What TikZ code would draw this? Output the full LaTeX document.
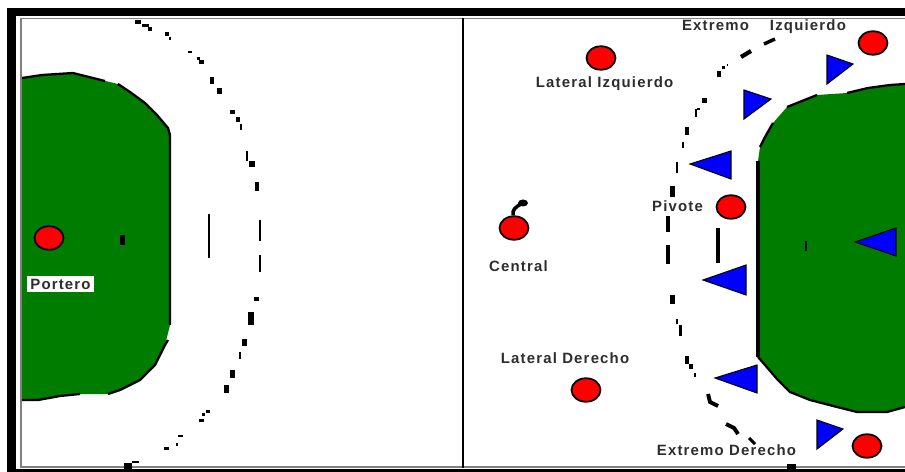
\documentclass[tikz,border=0pt]{standalone}
\usepackage{fontspec}
\setmainfont[LetterSpace=8]{Liberation Sans}
\usetikzlibrary{shapes.geometric}
\definecolor{areagreen}{RGB}{0,124,0}
\definecolor{labelgray}{RGB}{45,45,45}
\tikzset{
  player/.style={ellipse, draw=black, line width=1pt, fill=red, minimum width=0.58cm, minimum height=0.47cm, inner sep=0pt},
  defender/.style={draw=black, line width=0.6pt, fill=blue},
  area/.style={fill=areagreen},
  areaedge/.style={black, line width=1.3pt},
  courtlabel/.style={text=labelgray, font=\bfseries\fontsize{8.5}{10}\selectfont, inner sep=0pt}
}
\begin{document}
\begin{tikzpicture}[x=0.02cm, y=-0.02cm]
        \useasboundingbox (0,0) rectangle (905,472);
        \clip (0,0) rectangle (905,472);

        % Goal areas
        \fill[area] (22,78) -- (42,75) -- (73,73) -- (93,78) -- (118,84) -- (130,92) -- (145,103) -- (157,115) -- (168,128) -- (170,135) -- (170,325) -- (165,345) -- (155,365) -- (140,380) -- (120,390) -- (108,394) -- (80,394) -- (60,396) -- (38,400) -- (22,400) -- cycle;
        \fill[area] (905,84) -- (890,85) -- (868,88) -- (847,93) -- (817,95) -- (797,103) -- (787,107) -- (773,123) -- (765,137) -- (760,147) -- (758,161) -- (758,357) -- (765,365) -- (777,379) -- (790,392) -- (810,400) -- (837,407) -- (857,412) -- (887,412) -- (905,407) -- cycle;
        \draw[areaedge] (22,78) -- (42,75) -- (73,73) -- (93,78) -- (105,81);
        \draw[areaedge] (118,84) -- (130,92) -- (145,103) -- (157,115) -- (168,128) -- (170,135) -- (170,325);
        \draw[areaedge] (168,340) -- (165,345) -- (155,365) -- (140,380) -- (120,390) -- (108,394);
        \draw[areaedge] (80,394) -- (60,396) -- (38,400) -- (22,400);
        \draw[areaedge] (905,84) -- (890,85) -- (868,88) -- (847,93);
        \draw[areaedge] (817,95) -- (797,103) -- (787,107);
        \draw[areaedge] (773,123) -- (765,137) -- (760,147);
        \draw[black, line width=2.2pt] (758,161) -- (758,357);
        \draw[areaedge] (758,357) -- (765,365) -- (777,379) -- (790,392) -- (810,400) -- (837,407) -- (857,412) -- (887,412) -- (905,407);

        % Court frame
        \fill[black] (7,8) rectangle (905,16);
        \fill[black] (7,8) rectangle (15.5,472);
        \fill[black] (7,469) rectangle (905,472);
        \draw[gray, line width=0.7pt] (21,18.5) -- (905,18.5);
        \draw[gray, line width=0.7pt] (21,18.5) -- (21,467) -- (905,467);
        \draw[black, line width=1.6pt] (463,18) -- (463,468);

        % Free throw dashes
        \foreach \x/\y/\w/\h in {135/20/6/4, 142/24/7/3, 148/27/4/4, 165/32/4/4, 169/37/2/3, 188/51/4/2, 197/57/3/3, 199/60/5/4, 210/77/4/7, 217/88/5/6, 230/110/5/4, 236/117/4/5, 240/124/2/6, 246/151/2/10, 249/161/6/6, 255/182/4/9, 259/220/2/21, 259/255/2/17, 254/297/5/4, 248/312/6/13, 242/339/5/7, 239/352/2/7, 230/370/5/8, 224/385/5/8, 206/410/4/3, 202/413/3/3, 199/419/5/3, 178/435/5/2, 176/443/2/3, 164/447/5/3, 124/463/8/6, 132/461/7/2, 702/98/5/5, 695/109/2/8, 697/108/3/2, 685/127/4/8, 682/142/2/6, 676/162/2/11, 670/186/5/11, 666/216/4/16, 666/245/4/19, 670/295/5/9, 676/319/2/5, 679/325/3/11, 685/356/4/8, 689/364/4/5, 694/373/2/4, 787/464/9/5, 717/71/4/6, 722/66/3/3, 727/64/1/2} {
          \fill[black] (\x,\y) rectangle ++(\w,\h);
        }
        \draw[black, line width=2pt] (764,44) -- (775,39);
        \draw[black, line width=2.4pt] (741,57) -- (751,51);
        \draw[black, line width=2.2pt] (708,394) -- (710,402) -- (718,406);
        \draw[black, line width=2.2pt] (726,424) -- (734,428) -- (738,434);
        \draw[black, line width=1.8pt] (749,438) -- (755,444);

        % Seven metre lines and goalkeeper marks
        \draw[black, line width=0.8pt] (209,214) -- (209,258);
        \draw[black, line width=1.9pt] (718,228) -- (718,263);
        \fill[black] (120,235) rectangle (125,245);
        \fill[black] (805,241) rectangle (807,251);

        % Defenders
        \draw[defender] (827,55) -- (853,64) -- (827,84) -- cycle;
        \draw[defender] (744,90) -- (771,99) -- (744,119) -- cycle;
        \draw[defender] (690,164) -- (731,151) -- (731,179) -- cycle;
        \draw[defender] (855,242) -- (896,228) -- (896,256) -- cycle;
        \draw[defender] (703,280) -- (746,265) -- (746,295) -- cycle;
        \draw[defender] (715,378) -- (757,365) -- (757,393) -- cycle;
        \draw[defender] (817,420) -- (843,429) -- (817,449) -- cycle;

        % Players
        \node[player] (portero) at (49,238) {};
        \node[player] (latizq) at (601,58) {};
        \node[player] (extizq) at (873,43) {};
        \node[player] (pivote) at (731,207) {};
        \node[player] (central) at (514,228) {};
        \node[player] (latder) at (586,390) {};
        \node[player] (extder) at (867,446) {};

        % Ball
        \coordinate (ball) at (523,203);
        \draw[black, line width=2pt] (central.north) ++(-1,0) .. controls (512,210) and (515,207) .. (ball);
        \fill[black] (ball) ellipse (5 and 3.5);

        % Labels
        \node[courtlabel, fill=white, inner xsep=2pt, inner ysep=1.5pt] (portlabel) at (60.5,284) {Portero};
        \node[courtlabel] (latizqlabel) at (604.5,84) {Lateral Izquierdo};
        \node[courtlabel] (extizqlabel) at (764,27) {Extremo\hspace{0.42cm}Izquierdo};
        \node[courtlabel] (pivlabel) at (677.5,206) {Pivote};
        \node[courtlabel] (centlabel) at (518.5,266) {Central};
        \node[courtlabel] (latderlabel) at (565,358) {Lateral Derecho};
        \node[courtlabel] (extderlabel) at (726.5,450) {Extremo Derecho};
    \end{tikzpicture}
\end{document}
